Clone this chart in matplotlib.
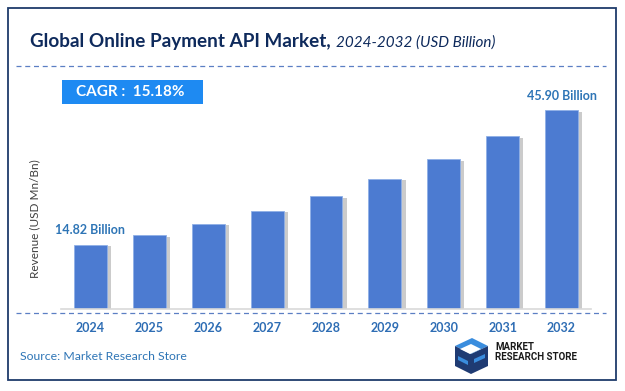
import matplotlib.pyplot as plt
from matplotlib.patches import Rectangle, Polygon
from matplotlib.lines import Line2D

# data
years = ['2024', '2025', '2026', '2027', '2028', '2029', '2030', '2031', '2032']
revenue = [14.82, 17.07, 19.66, 22.65, 26.08, 30.04, 34.60, 39.85, 45.90]
first_label = '14.82 Billion'
last_label = '45.90 Billion'
cagr_text = 'CAGR :  15.18%'

W, H = 625, 391
def fx(x):
    return x / W
def fy(y):
    return 1 - y / H

plt.rcParams['font.family'] = ['Lato', 'DejaVu Sans']

fig = plt.figure(figsize=(6.25, 3.91), dpi=100)
fig.patch.set_facecolor('white')

# outer frame
fig.add_artist(Rectangle((fx(8), fy(380)), fx(608), 372 / H, transform=fig.transFigure,
                         fill=False, edgecolor='#1F3B6B', linewidth=1.3))

# title (bold part + italic part)
fig.text(fx(331), fy(42), 'Global Online Payment API Market,', ha='right', va='center',
         fontsize=13.6, fontweight='bold', color='#0E2A5C')
fig.text(fx(336), fy(43), '2024-2032 (USD Billion)', ha='left', va='center',
         fontsize=11, style='italic', color='#0E2A5C')

# dashed separators
fig.add_artist(Line2D([fx(16), fx(606)], [fy(66), fy(66)], transform=fig.transFigure,
                      color='#5B7FC4', linestyle=(0, (4, 3)), linewidth=0.9))
fig.add_artist(Line2D([fx(16), fx(606)], [fy(313), fy(313)], transform=fig.transFigure,
                      color='#5B7FC4', linestyle=(0, (4, 3)), linewidth=0.9))

# bar chart
ax = fig.add_axes([fx(61), fy(309), (591 - 61) / W, (309 - 80) / H])
x = list(range(len(years)))
shadow = [v - 0.4 for v in revenue]
ax.bar([i + 0.07 for i in x], shadow, width=0.56, color='#8C8C8C', alpha=0.45, zorder=1)
ax.bar(x, revenue, width=0.56, color='#4C7BD1', edgecolor='#8FB0E6', linewidth=0.6, zorder=2)
ax.set_xlim(-0.5, 8.5)
ax.set_ylim(0, 52.8)
ax.set_yticks([])
ax.set_xticks(x)
ax.set_xticklabels(years, fontsize=9, fontweight='bold', color='#2E6DB4')
ax.tick_params(axis='x', length=0, pad=9)
for s in ['top', 'right', 'left']:
    ax.spines[s].set_visible(False)
ax.spines['bottom'].set_color('#D9D9D9')
ax.spines['bottom'].set_linewidth(1.2)
ax.patch.set_alpha(0)

ax.annotate(first_label, (0, revenue[0]), xytext=(0, 6), textcoords='offset points',
            ha='center', va='bottom', fontsize=9, fontweight='bold', color='#2E75B6')
ax.annotate(last_label, (8, revenue[-1]), xytext=(0, 6), textcoords='offset points',
            ha='center', va='bottom', fontsize=9, fontweight='bold', color='#2E75B6')

# y label
fig.text(fx(35), fy(219), 'Revenue (USD Mn/Bn)', rotation=90, ha='center', va='center',
         fontsize=8.5, color='#404040')

# CAGR box
fig.add_artist(Rectangle((fx(62), fy(104)), fx(141), 24 / H, transform=fig.transFigure,
                         facecolor='#1E8AF2', edgecolor='none'))
fig.text(fx(130), fy(92), cagr_text, ha='center', va='center', fontsize=11,
         fontweight='bold', color='white')

# source
fig.text(fx(20), fy(357), 'Source: Market Research Store', ha='left', va='center',
         fontsize=8.8, color='#2E75B6')

# logo
dark = '#1F3B73'
light = '#3A8DDE'
pts = [
    ([(455, 346), (472, 338), (488, 346), (471, 354)], light),
    ([(455, 346), (471, 354), (471, 374), (455, 366)], dark),
    ([(471, 354), (488, 346), (488, 366), (471, 374)], dark),
    ([(460, 349), (471, 344), (481, 349), (470, 354)], 'white'),
    ([(474, 359), (485, 354), (485, 358), (474, 363)], light),
    ([(458, 356), (468, 361), (468, 365), (458, 360)], light),
]
for p, c in pts:
    fig.add_artist(Polygon([(fx(a), fy(b)) for a, b in p], closed=True,
                           transform=fig.transFigure, facecolor=c, edgecolor='none'))
fig.text(fx(495), fy(352), 'MARKET\nRESEARCH STORE', ha='left', va='center', fontsize=7,
         fontweight='bold', color='#1A1A1A', linespacing=0.9,
         family=['Roboto', 'DejaVu Sans'])

fig.savefig('out.png', dpi=100)
